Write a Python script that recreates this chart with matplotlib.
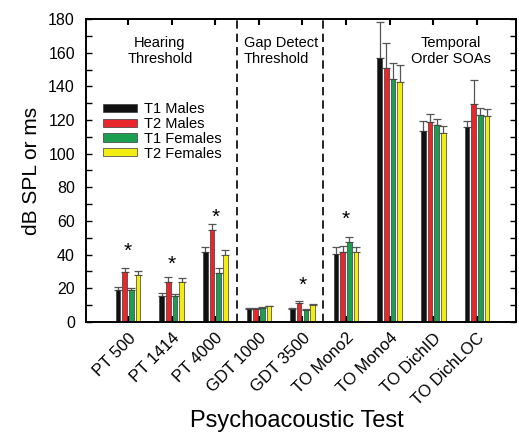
import numpy as np
import matplotlib
matplotlib.use('Agg')
from matplotlib import pyplot as plt
from matplotlib.ticker import MultipleLocator

plt.rcParams['font.family'] = ['Liberation Sans', 'DejaVu Sans']

tests = ['PT 500', 'PT 1414', 'PT 4000', 'GDT 1000', 'GDT 3500',
         'TO Mono2', 'TO Mono4', 'TO DichID', 'TO DichLOC']
groups = ['T1 Males', 'T2 Males', 'T1 Females', 'T2 Females']
colors = ['#111111', '#e8262b', '#1b9e50', '#f2ec12']

t1_males = [19.0, 15.5, 41.4, 8.0, 7.6, 40.3, 157.0, 113.6, 115.9]
t1_males_err = [2.0, 2.0, 3.3, 0.4, 1.0, 4.0, 21.4, 5.6, 3.7]
t2_males = [29.8, 23.7, 54.6, 8.0, 11.0, 41.4, 151.0, 118.6, 129.7]
t2_males_err = [2.4, 3.1, 3.6, 0.5, 1.3, 3.9, 15.0, 5.2, 14.3]
t1_females = [19.0, 15.5, 29.2, 8.6, 7.0, 47.3, 144.5, 117.2, 123.2]
t1_females_err = [1.0, 1.4, 2.6, 0.5, 0.6, 3.4, 9.5, 3.6, 4.0]
t2_females = [28.2, 23.9, 39.8, 9.2, 9.9, 41.4, 142.7, 112.3, 122.2]
t2_females_err = [2.2, 2.0, 2.9, 0.5, 0.6, 3.3, 9.7, 3.9, 4.4]

# significant differences marked with an asterisk (test index, height)
star_idx = [0, 1, 2, 4, 5]
star_y = [42, 34, 62, 21.5, 61]

sections = ['Hearing\nThreshold', 'Gap Detect\nThreshold', 'Temporal\nOrder SOAs']

means = [t1_males, t2_males, t1_females, t2_females]
errs = [t1_males_err, t2_males_err, t1_females_err, t2_females_err]

fig = plt.figure(figsize=(5.19, 4.33), dpi=100)
ax = fig.add_axes([0.1657, 0.2564, 0.8285, 0.6997])

x = np.arange(len(tests))
pitch = 0.153
width = 0.105
for k in range(4):
    xs = x + (k - 1.5) * pitch
    ax.bar(xs, means[k], width, color=colors[k], edgecolor='#3a3a3a',
           linewidth=0.5, label=groups[k], zorder=2)
    ax.errorbar(xs, means[k], yerr=[np.zeros(len(x)), errs[k]], fmt='none',
                ecolor='#555555', elinewidth=0.9, capsize=2.6, capthick=0.9,
                zorder=1)

for xd in (2.5, 4.47):
    ax.axvline(xd, color='black', linestyle=(0, (5, 3)), linewidth=1.2)

for i, ys in zip(star_idx, star_y):
    ax.text(x[i], ys, '*', ha='center', va='center', fontsize=15)

ax.text(0.73, 161, sections[0], ha='center', va='center', fontsize=10.5)
ax.text(2.66, 161, sections[1], ha='left', va='center', fontsize=10.5)
ax.text(7.41, 161, sections[2], ha='center', va='center', fontsize=10.5)

ax.set_xlim(-0.963, 8.894)
ax.set_ylim(0, 180)
ax.yaxis.set_major_locator(MultipleLocator(20))
ax.yaxis.set_minor_locator(MultipleLocator(10))
ax.set_xticks(x)
ax.set_xticklabels(tests, rotation=45, ha='right', rotation_mode='anchor',
                   fontsize=12)
ax.tick_params(axis='x', direction='in', length=4, width=1.5, top=True,
               pad=6)
ax.tick_params(axis='y', which='both', direction='in', length=4, width=1,
               right=True, labelsize=11.5, pad=8)
for s in ax.spines.values():
    s.set_linewidth(1.4)

ax.set_ylabel('dB SPL or ms', fontsize=15)
ax.yaxis.set_label_coords(-0.105, 0.5)
ax.set_xlabel('Psychoacoustic Test', fontsize=17)
ax.xaxis.set_label_coords(0.49, -0.29)

ax.legend(loc='upper left', bbox_to_anchor=(0.04, 0.725), frameon=False,
          fontsize=10.5, handlelength=2.3, handleheight=0.5,
          handletextpad=0.5, labelspacing=0.05, borderpad=0,
          borderaxespad=0)

fig.savefig('out.png', dpi=100)
